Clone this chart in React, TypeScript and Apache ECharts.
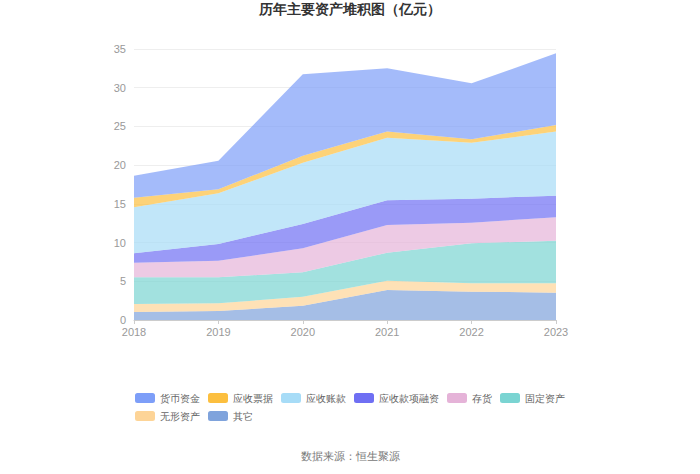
import React, { useEffect, useRef } from "react";
import * as echarts from "echarts";

const years = ["2018", "2019", "2020", "2021", "2022", "2023"];
const seriesNames = ["货币资金", "应收票据", "应收账款", "应收款项融资", "存货", "固定资产", "无形资产", "其它"];
const colors = ["#7d9ef8", "#fcbf3f", "#a7dcf7", "#6f6ff3", "#e5b3d8", "#7ad4d2", "#fdd497", "#7fa3dc"];

const cash = [2.84, 3.7, 10.51, 8.17, 7.23, 9.26];
const notes = [1.25, 0.52, 0.9, 0.78, 0.44, 0.85];
const receivables = [5.94, 6.54, 7.92, 8.09, 7.23, 8.27];
const receivablesFinancing = [1.21, 2.16, 3.14, 3.19, 3.1, 2.8];
const inventory = [1.89, 2.15, 3.1, 3.57, 2.67, 3.01];
const fixedAssets = [3.44, 3.36, 3.15, 3.62, 5.16, 5.51];
const intangible = [1.04, 0.99, 1.16, 1.21, 1.08, 1.21];
const others = [1.03, 1.16, 1.85, 3.87, 3.66, 3.53];

const seriesData = [cash, notes, receivables, receivablesFinancing, inventory, fixedAssets, intangible, others];

export default function App() {
  const ref = useRef<HTMLDivElement>(null);
  useEffect(() => {
    document.body.style.margin = "0";
    const chart = echarts.init(ref.current!, null, { renderer: "svg" });
    const order = [7, 6, 5, 4, 3, 2, 1, 0];
    chart.setOption({
      animation: false,
      title: {
        text: "历年主要资产堆积图（亿元）",
        left: "center",
        top: 0,
        padding: [2, 5],
        textStyle: { fontSize: 14, fontWeight: "bold", color: "#333" },
      },
      legend: {
        data: seriesNames,
        left: "center",
        top: 388,
        width: 450,
        itemWidth: 20,
        itemHeight: 10,
        itemGap: 8,
        icon: "roundRect",
        textStyle: { fontSize: 10, color: "#666" },
      },
      grid: { left: 134, right: 144, top: 49, bottom: 154, containLabel: false },
      xAxis: {
        type: "category",
        data: years,
        boundaryGap: false,
        axisLine: { lineStyle: { color: "#ccc" } },
        axisTick: { alignWithLabel: true, length: 4, lineStyle: { color: "#ccc" } },
        axisLabel: { color: "#999", fontSize: 11, margin: 6 },
      },
      yAxis: {
        type: "value",
        min: 0,
        max: 35,
        interval: 5,
        axisLine: { show: false },
        axisTick: { show: false },
        axisLabel: { color: "#999", fontSize: 11, margin: 8 },
        splitLine: { lineStyle: { color: "#eee" } },
      },
      graphic: [
        {
          type: "text",
          left: "center",
          top: 450,
          style: { text: "数据来源：恒生聚源", fontSize: 11, fill: "#777" },
        },
      ],
      series: order.map((i) => ({
        name: seriesNames[i],
        type: "line",
        stack: "total",
        data: seriesData[i],
        symbol: "none",
        showSymbol: false,
        lineStyle: { width: 0 },
        itemStyle: { color: colors[i] },
        areaStyle: { color: colors[i], opacity: 0.7 },
      })),
    });
    return () => chart.dispose();
  }, []);
  return <div ref={ref} style={{ width: 700, height: 474 }} />;
}
